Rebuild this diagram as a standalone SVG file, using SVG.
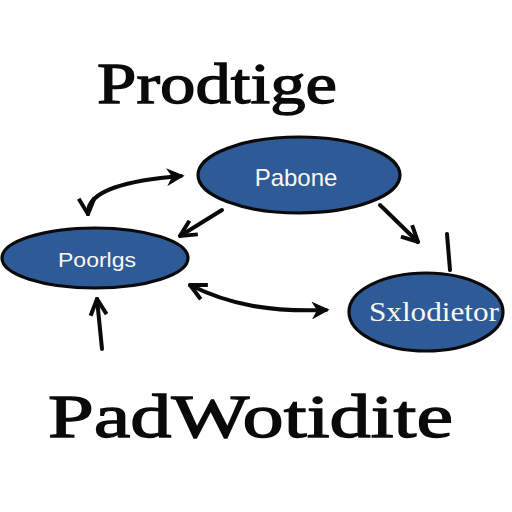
<svg xmlns="http://www.w3.org/2000/svg" width="512" height="512" viewBox="0 0 512 512">
<defs>
<style>
.node ellipse{fill:#2e5a98;stroke:#0a0a0a;stroke-width:3.2}
.node text{fill:#fbf8ee;text-anchor:middle}
.sans{font-family:"Liberation Sans","DejaVu Sans",sans-serif}
.serif{font-family:"Liberation Serif","DejaVu Serif",serif}
.title{font-family:"Liberation Serif","DejaVu Serif",serif;font-weight:normal;fill:#0a0a0a;stroke:#0a0a0a;stroke-width:1.3}
.conn path{fill:none;stroke:#0a0a0a;stroke-width:4;stroke-linecap:round;stroke-linejoin:round}
</style>
<marker id="ah" viewBox="0 0 10 10" refX="8" refY="5" markerWidth="4.5" markerHeight="4.5" orient="auto">
<path d="M0,0 L10,5 L0,10 L3,5 z" fill="#0a0a0a"/>
</marker>
<marker id="av" viewBox="0 0 10 10" refX="9" refY="5" markerWidth="5" markerHeight="5" orient="auto-start-reverse">
<path d="M1,1 L9,5 L1,9" fill="none" stroke="#0a0a0a" stroke-width="2"/>
</marker>
</defs>
<rect width="512" height="512" fill="#ffffff"/>
<text class="title" x="97" y="103" font-size="58" textLength="240" lengthAdjust="spacingAndGlyphs">Prodtige</text>
<text class="title" x="48" y="437" font-size="62" textLength="405" lengthAdjust="spacingAndGlyphs">PadWotidite</text>
<g class="conn">
<path d="M88,214 C86,190 130,180 181,176" marker-end="url(#ah)" marker-start="url(#av)"/>
<path d="M222,210 L180,236" marker-end="url(#av)"/>
<path d="M380,205 L418,242" marker-end="url(#av)"/>
<path d="M447,234 L450,270"/>
<path d="M190,285 C230,305 270,312 326,310" marker-end="url(#ah)" marker-start="url(#av)"/>
<path d="M102,349 L97,299" marker-end="url(#av)"/>
</g>
<g id="node-pabone" class="node">
<ellipse cx="299" cy="175" rx="101" ry="38"/>
<text class="sans" x="296" y="186" font-size="24">Pabone</text>
</g>
<g id="node-poorlgs" class="node">
<ellipse cx="95" cy="258" rx="93" ry="30"/>
<text class="sans" x="97" y="267" font-size="21" textLength="78" lengthAdjust="spacingAndGlyphs">Poorlgs</text>
</g>
<g id="node-sxlodietor" class="node">
<ellipse cx="426" cy="312" rx="77" ry="39"/>
<text class="serif" x="434" y="321" font-size="27" textLength="130" lengthAdjust="spacingAndGlyphs">Sxlodietor</text>
</g>
</svg>
